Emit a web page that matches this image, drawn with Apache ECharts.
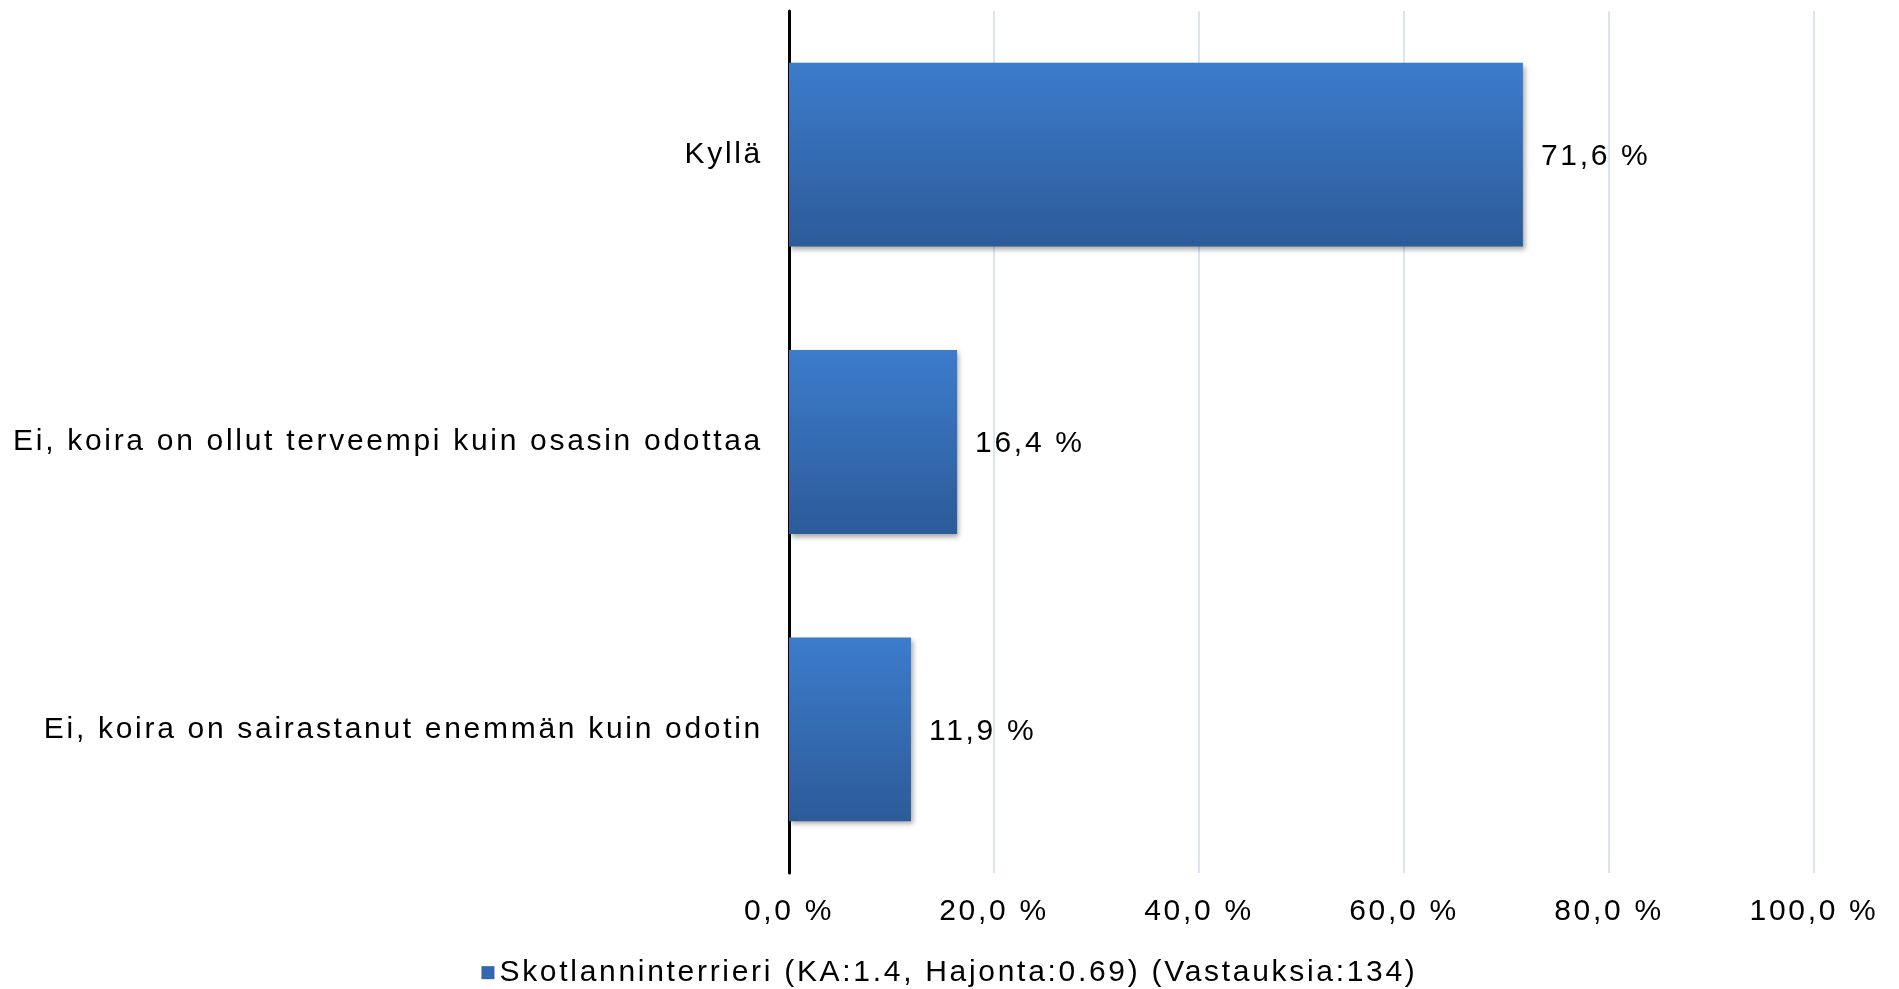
<!DOCTYPE html>
<html>
<head>
<meta charset="utf-8">
<script src="https://cdn.jsdelivr.net/npm/echarts@6/dist/echarts.min.js"></script>
<style>
  html, body { margin: 0; padding: 0; background: #ffffff; }
  #chart { width: 1899px; height: 989px; }
</style>
</head>
<body>
<div id="chart"></div>
<script>
// Answer categories, top to bottom
const categories = [
  'Kyllä',
  'Ei, koira on ollut terveempi kuin osasin odottaa',
  'Ei, koira on sairastanut enemmän kuin odotin'
];
// Share of respondents, percent
const values = [71.6, 16.4, 11.9];
const seriesName = 'Skotlanninterrieri (KA:1.4, Hajonta:0.69) (Vastauksia:134)';
// Percent axis
const axisMin = 0;
const axisMax = 100;
const axisStep = 20;

// Tracked lettering: every canvas font assignment also sets the spacing,
// so both text measuring and drawing use the same widths.
const TRACKING = '2.7px';
(function () {
  const proto = CanvasRenderingContext2D.prototype;
  const desc = Object.getOwnPropertyDescriptor(proto, 'font');
  if (desc && desc.set && 'letterSpacing' in proto) {
    Object.defineProperty(proto, 'font', {
      configurable: true,
      enumerable: desc.enumerable,
      get: function () { return desc.get.call(this); },
      set: function (v) { desc.set.call(this, v); this.letterSpacing = TRACKING; }
    });
  }
})();

const fmt = v => v.toFixed(1).replace('.', ',') + ' %';

const font = 'Liberation Sans, Arial, sans-serif';
const fontSize = 30;
const barGradient = new echarts.graphic.LinearGradient(0, 0, 0, 1, [
  { offset: 0, color: '#3C7CCC' },
  { offset: 1, color: '#2C5B98' }
]);

const chart = echarts.init(document.getElementById('chart'));
chart.setOption({
  animation: false,
  backgroundColor: '#ffffff',
  grid: { left: 789, right: 85, top: 11, bottom: 116, containLabel: false },
  legend: {
    bottom: -5,
    left: 'center',
    itemWidth: 13,
    itemHeight: 13,
    itemGap: 9,
    icon: 'rect',
    textStyle: { fontFamily: font, fontSize: fontSize, color: '#000' },
    data: [{ name: seriesName, itemStyle: { color: '#3467B0' } }]
  },
  xAxis: {
    type: 'value',
    min: axisMin,
    max: axisMax,
    interval: axisStep,
    axisLine: { show: false },
    axisTick: { show: false },
    splitLine: { show: true, lineStyle: { color: '#DCE5F0', width: 2 } },
    axisLabel: {
      margin: 22,
      fontFamily: font,
      fontSize: fontSize,
      color: '#000',
      formatter: v => fmt(v)
    }
  },
  yAxis: {
    type: 'category',
    inverse: true,
    data: categories,
    axisLine: { show: true, lineStyle: { color: '#000', width: 3 } },
    axisTick: { show: false },
    axisLabel: {
      margin: 26,
      fontFamily: font,
      fontSize: fontSize,
      color: '#000',
      padding: [2, 0, 0, 0]
    }
  },
  series: [{
    name: seriesName,
    type: 'bar',
    data: values,
    barCategoryGap: '36%',
    itemStyle: {
      color: barGradient,
      shadowColor: 'rgba(0,0,0,0.35)',
      shadowBlur: 5,
      shadowOffsetX: 2,
      shadowOffsetY: 3
    },
    label: {
      show: true,
      position: 'right',
      distance: 18,
      offset: [0, 2],
      fontFamily: font,
      fontSize: fontSize,
      color: '#000',
      formatter: p => fmt(p.value)
    },
    z: 3
  }]
});
</script>
</body>
</html>
